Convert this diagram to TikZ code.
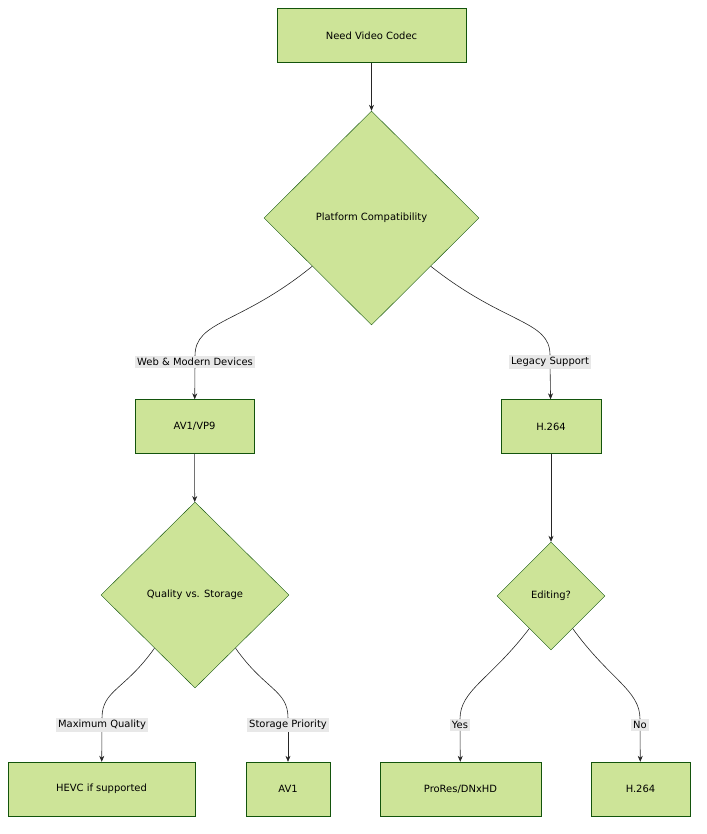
\documentclass[tikz,border=0pt]{standalone}
\usepackage{fontspec}
\setmainfont{DejaVu Sans}
\usetikzlibrary{shapes.geometric, arrows.meta, calc}
\definecolor{leaf}{HTML}{CDE498}
\definecolor{leafline}{HTML}{13540C}
\definecolor{tagbg}{HTML}{E8E8E8}
\tikzset{
  box/.style={draw=leafline, fill=leaf, minimum height=54bp, inner sep=0pt, font=\fontsize{10}{12}\selectfont},
  choice/.style={draw=leafline, fill=leaf, diamond, inner sep=0pt, font=\fontsize{10}{12}\selectfont},
  tag/.style={fill=tagbg, inner sep=2pt, font=\fontsize{10}{12}\selectfont},
  edge/.style={draw=black!85, line width=0.6pt, -{Stealth[length=6pt,width=5pt]}}
}
\begin{document}
\begin{tikzpicture}[x=1bp, y=-1bp]
    \useasboundingbox (0,0) rectangle (707,834);

    % boxes and decisions
    \node[box, minimum width=189bp] (need) at (371.5,35.5) {Need Video Codec};
    \node[choice, minimum width=215bp, minimum height=214bp] (platform) at (371.5,218) {Platform Compatibility};
    \node[box, minimum width=119bp] (av) at (194.5,426.5) {AV1/VP9};
    \node[box, minimum width=100bp] (hleg) at (551,426.5) {H.264};
    \node[choice, minimum width=188bp, minimum height=186bp] (quality) at (195,595) {Quality vs. Storage};
    \node[choice, minimum width=108bp, minimum height=108bp] (editing) at (551,596) {Editing?};
    \node[box, minimum width=187bp] (hevc) at (101.5,789) {HEVC if supported};
    \node[box, minimum width=84bp] (avone) at (288,789) {AV1};
    \node[box, minimum width=161bp] (prores) at (460.5,789) {ProRes/DNxHD};
    \node[box, minimum width=99bp] (hnew) at (640.5,789) {H.264};

    % edge labels
    \node[tag] (web) at (195,362) {Web \& Modern Devices};
    \node[tag] (legacy) at (550,362) {Legacy Support};
    \node[tag] (maxq) at (102,725) {Maximum Quality};
    \node[tag] (store) at (288,725) {Storage Priority};
    \node[tag] (yes) at (460,725) {Yes};
    \node[tag] (no) at (640,725) {No};

    % start points on the diamond sides
    \coordinate (pl) at ($(platform.west)!0.45!(platform.south)$);
    \coordinate (pr) at ($(platform.east)!0.45!(platform.south)$);
    \coordinate (ql) at ($(quality.west)!0.57!(quality.south)$);
    \coordinate (qr) at ($(quality.east)!0.57!(quality.south)$);
    \coordinate (el) at ($(editing.west)!0.6!(editing.south)$);
    \coordinate (er) at ($(editing.east)!0.6!(editing.south)$);

    % connectors
    \draw[edge] (need) -- (platform);
    \draw[line width=0.6pt, black!85] (pl) .. controls (240,325) and (195,320) .. (web);
    \draw[edge] (web) -- (av);
    \draw[line width=0.6pt, black!85] (pr) .. controls (505,325) and (550,320) .. (legacy);
    \draw[edge] (legacy) -- (hleg);
    \draw[edge] (av) -- (quality);
    \draw[edge] (hleg) -- (editing);
    \draw[line width=0.6pt, black!85] (ql) .. controls (125,690) and (102,690) .. (maxq);
    \draw[edge] (maxq) -- (hevc);
    \draw[line width=0.6pt, black!85] (qr) .. controls (265,690) and (288,690) .. (store);
    \draw[edge] (store) -- (avone);
    \draw[line width=0.6pt, black!85] (el) .. controls (490,680) and (460,690) .. (yes);
    \draw[edge] (yes) -- (prores);
    \draw[line width=0.6pt, black!85] (er) .. controls (610,680) and (640,690) .. (no);
    \draw[edge] (no) -- (hnew);
\end{tikzpicture}
\end{document}
